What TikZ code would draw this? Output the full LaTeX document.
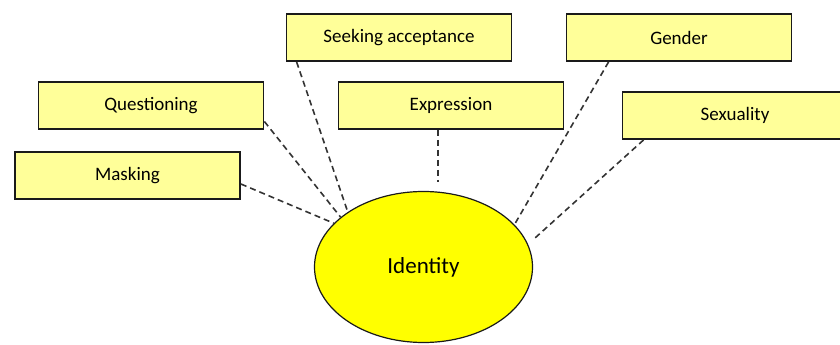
\documentclass[tikz,border=0pt]{standalone}
\usepackage{fontspec}
\setmainfont{Carlito}
\usetikzlibrary{shapes.geometric}
\definecolor{boxfill}{HTML}{FFFF99}
\definecolor{ellfill}{HTML}{FFFF00}
\definecolor{edge}{HTML}{1A1A1A}
\definecolor{conncol}{HTML}{333333}
\begin{document}
\begin{tikzpicture}[x=1pt,y=-1pt,
  lbl/.style={draw=edge, line width=1.8pt, fill=boxfill, minimum width=225pt,
    minimum height=47pt, inner sep=0pt, font=\fontsize{19}{22}\selectfont},
  idell/.style={ellipse, draw=edge, line width=1.2pt, fill=ellfill, minimum width=218pt,
    minimum height=151pt, inner sep=0pt, font=\fontsize{23}{27}\selectfont},
  conn/.style={draw=conncol, line width=1.6pt, dash pattern=on 6pt off 4pt}]
\useasboundingbox (0,0) rectangle (840,345);
\clip (0,0) rectangle (840,345);
\node[lbl] (mask) at (127.5,175.5) {Masking};
\node[lbl] (quest) at (151,105.5) {Questioning};
\node[lbl] (seek) at (399,37.5) {Seeking acceptance};
\node[lbl] (expr) at (451,105.5) {Expression};
\node[lbl] (gen) at (679,37.5) {Gender};
\node[lbl] (sex) at (735,115.5) {Sexuality};
\node[idell] (id) at (423.5,267) {Identity};
\coordinate (sxend) at (535,238);
\draw[conn] ([yshift=-8.5pt]mask.east) -- (id.154);
\draw[conn] ([yshift=-16pt]quest.east) -- (id.149);
\draw[conn] ([xshift=11pt]seek.south west) -- (id.144);
\draw[conn] ([xshift=-13pt]expr.south) -- ++(0,52);
\draw[conn] ([xshift=43pt]gen.south west) -- (id.25);
\draw[conn] ([xshift=22pt]sex.south west) -- (sxend);
\end{tikzpicture}
\end{document}
